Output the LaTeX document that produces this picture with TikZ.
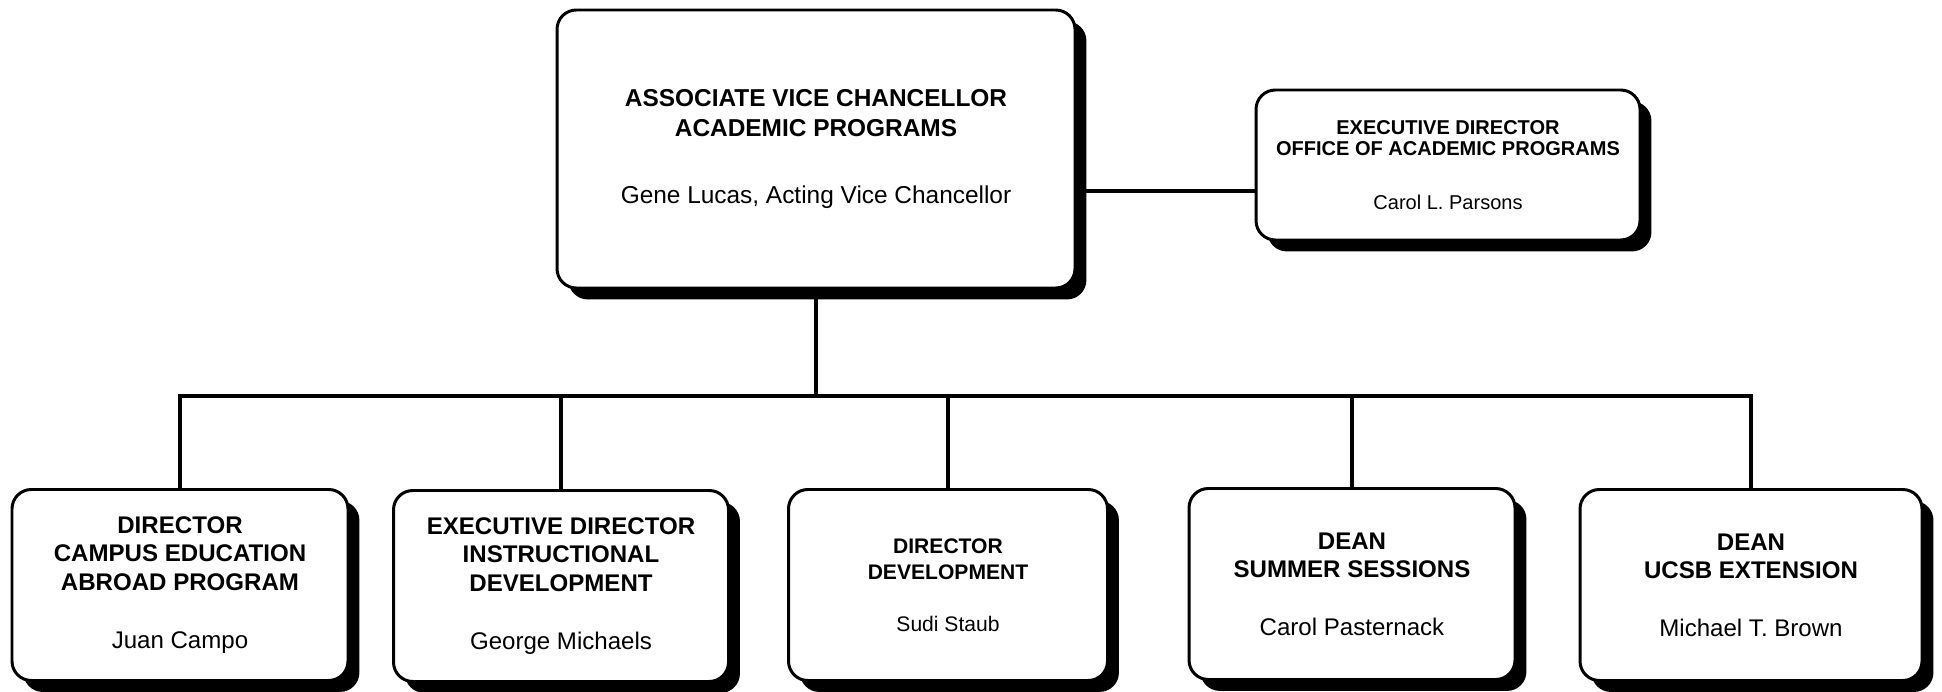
\documentclass[tikz,border=0pt]{standalone}
\usepackage{fontspec}
\setmainfont{Liberation Sans}
\usetikzlibrary{shadows}

\begin{document}
\begin{tikzpicture}[x=0.02cm,y=-0.02cm,
  post/.style={draw,line width=1.7pt,rounded corners=11pt,fill=white,align=center,inner sep=0pt,
    drop shadow={shadow xshift=6.5pt,shadow yshift=-6.5pt,opacity=1,fill=black}},
  big/.style={font=\fontsize{13.7}{16}\selectfont},
  mid/.style={font=\fontsize{12}{14.8}\selectfont},
  small/.style={font=\fontsize{11.4}{12}\selectfont},
  link/.style={line width=2.8pt}]
\useasboundingbox (0,0) rectangle (1942,692);
\node[post,font=\fontsize{13.9}{17}\selectfont,minimum width=518*0.02cm,minimum height=278*0.02cm] (avc) at (816,149)
  {\textbf{ASSOCIATE VICE CHANCELLOR}\\\textbf{ACADEMIC PROGRAMS}\\[21pt]Gene Lucas, Acting Vice Chancellor};
\node[post,small,minimum width=384*0.02cm,minimum height=150*0.02cm] (oap) at (1448,165)
  {\textbf{EXECUTIVE DIRECTOR}\\\textbf{OFFICE OF ACADEMIC PROGRAMS}\\[19pt]Carol L. Parsons};
\node[post,big,minimum width=336*0.02cm,minimum height=191*0.02cm] (eap) at (180,585)
  {\textbf{DIRECTOR}\\\textbf{CAMPUS EDUCATION}\\\textbf{ABROAD PROGRAM}\\[17pt]Juan Campo};
\node[post,big,minimum width=335*0.02cm,minimum height=191*0.02cm] (inst) at (561,586)
  {\textbf{EXECUTIVE DIRECTOR}\\\textbf{INSTRUCTIONAL}\\\textbf{DEVELOPMENT}\\[17pt]George Michaels};
\node[post,mid,minimum width=319*0.02cm,minimum height=191*0.02cm] (dev) at (948,585)
  {\textbf{DIRECTOR}\\\textbf{DEVELOPMENT}\\[15pt]Sudi Staub};
\node[post,big,minimum width=326*0.02cm,minimum height=191*0.02cm] (sum) at (1352,584)
  {\textbf{DEAN}\\\textbf{SUMMER SESSIONS}\\[17pt]Carol Pasternack};
\node[post,big,minimum width=342*0.02cm,minimum height=191*0.02cm] (ext) at (1751,585)
  {\textbf{DEAN}\\\textbf{UCSB EXTENSION}\\[17pt]Michael T. Brown};
% reporting lines
\coordinate (tie) at (1160,191);
\coordinate (bus) at (816,396);
\draw[link] (avc.east |- tie) -- (oap.west |- tie);
\draw[link] (avc.south) -- (bus);
\foreach \n in {eap,inst,dev,sum,ext}
  \draw[link] (\n.north) |- (bus);
\end{tikzpicture}
\end{document}
